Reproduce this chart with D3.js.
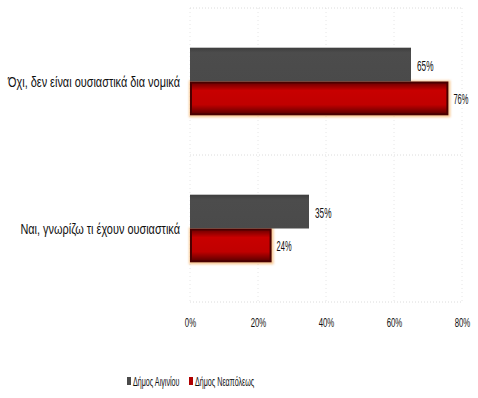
<!DOCTYPE html>
<html>
<head>
<meta charset="utf-8">
<script src="https://cdn.jsdelivr.net/npm/d3@7"></script>
<style>
  html, body { margin: 0; padding: 0; background: #fff; }
  svg { display: block; }
  text { font-family: "Liberation Sans", Arial, sans-serif; fill: #111; }
</style>
</head>
<body>
<svg id="chart" width="478" height="398"></svg>
<script>
// Answers (rows) and municipalities (series)
const categories = [
  "Όχι, δεν είναι ουσιαστικά δια νομικά",
  "Ναι, γνωρίζω τι έχουν ουσιαστικά"
];
const seriesNames = ["Δήμος Αιγινίου", "Δήμος Νεαπόλεως"];
const seriesA = [0.65, 0.35];
const seriesB = [0.76, 0.24];
const xTicks = [0, 0.2, 0.4, 0.6, 0.8];

const svg = d3.select("#chart");
const plotLeft = 190, plotRight = 462, plotTop = 8, plotBottom = 302;

// narrow the glyphs horizontally around their anchor, like a condensed face
function condense(sel, k) {
  sel.each(function () {
    const t = d3.select(this);
    const tx = +t.attr("x") || 0, ty = +t.attr("y") || 0;
    t.attr("x", 0).attr("y", 0)
      .attr("transform", `translate(${tx},${ty}) scale(${k},1)`);
  });
}

const x = d3.scaleLinear().domain([0, 0.8]).range([plotLeft, plotRight]);
const y0 = d3.scaleBand().domain(categories).range([plotTop, plotBottom])
  .paddingInner(0.54).paddingOuter(0.27);
const y1 = d3.scaleBand().domain(seriesNames).range([0, y0.bandwidth()]);

const defs = svg.append("defs");
const gRed = defs.append("linearGradient").attr("id", "gRed")
  .attr("x1", 0).attr("y1", 0).attr("x2", 0).attr("y2", 1);
gRed.append("stop").attr("offset", "0%").attr("stop-color", "#6a0000");
gRed.append("stop").attr("offset", "25%").attr("stop-color", "#c80000");
gRed.append("stop").attr("offset", "70%").attr("stop-color", "#c00000");
gRed.append("stop").attr("offset", "100%").attr("stop-color", "#5a0000");
const gGrey = defs.append("linearGradient").attr("id", "gGrey")
  .attr("x1", 0).attr("y1", 0).attr("x2", 0).attr("y2", 1);
gGrey.append("stop").attr("offset", "0%").attr("stop-color", "#3e3e3e");
gGrey.append("stop").attr("offset", "15%").attr("stop-color", "#4c4c4c");
gGrey.append("stop").attr("offset", "100%").attr("stop-color", "#4a4a4a");
const blur = defs.append("filter").attr("id", "soft")
  .attr("x", "-5%").attr("y", "-20%").attr("width", "110%").attr("height", "140%");
blur.append("feGaussianBlur").attr("stdDeviation", 1.2);

// faint dotted grid
const grid = svg.append("g");
grid.selectAll("line.v").data(xTicks).join("line")
  .attr("x1", d => x(d)).attr("x2", d => x(d))
  .attr("y1", plotTop).attr("y2", plotBottom)
  .attr("stroke", "#e6e6e6").attr("stroke-width", 1).attr("stroke-dasharray", "1,3");
const hLines = [plotTop, (y0(categories[0]) + y0.bandwidth() + y0(categories[1])) / 2, plotBottom];
grid.selectAll("line.h").data(hLines).join("line")
  .attr("x1", plotLeft).attr("x2", plotRight)
  .attr("y1", d => d).attr("y2", d => d)
  .attr("stroke", "#dcdcdc").attr("stroke-width", 1).attr("stroke-dasharray", "1,2");

const rows = categories.map((c, i) => ({ c, a: seriesA[i], b: seriesB[i] }));
const gRow = svg.append("g").selectAll("g").data(rows).join("g")
  .attr("transform", d => `translate(0,${y0(d.c)})`);

// soft warm glow under the red bars
gRow.append("rect")
  .attr("x", x(0) - 1).attr("y", y1(seriesNames[1]) - 1)
  .attr("width", d => x(d.b) - x(0) + 3).attr("height", y1.bandwidth() + 3)
  .attr("fill", "#f6b46a").attr("opacity", 0.7).attr("filter", "url(#soft)");

// grey bars
gRow.append("rect")
  .attr("x", x(0)).attr("y", y1(seriesNames[0]))
  .attr("width", d => x(d.a) - x(0)).attr("height", y1.bandwidth())
  .attr("fill", "url(#gGrey)");
// red bars
gRow.append("rect")
  .attr("x", x(0) + 1).attr("y", y1(seriesNames[1]) + 1)
  .attr("width", d => x(d.b) - x(0) - 2).attr("height", y1.bandwidth() - 2)
  .attr("fill", "url(#gRed)").attr("stroke", "#4a0000").attr("stroke-width", 2);

const fmt = d3.format(".0%");
gRow.append("text")
  .attr("x", d => x(d.a) + 6).attr("y", y1(seriesNames[0]) + y1.bandwidth() / 2 + 6)
  .attr("font-size", 15).text(d => fmt(d.a)).call(condense, 0.55);
gRow.append("text")
  .attr("x", d => x(d.b) + 5).attr("y", y1(seriesNames[1]) + y1.bandwidth() / 2 + 6)
  .attr("font-size", 15).text(d => fmt(d.b)).call(condense, 0.5);

// category labels
gRow.append("text")
  .attr("x", plotLeft - 10).attr("y", y0.bandwidth() / 2 + 5)
  .attr("text-anchor", "end").attr("font-size", 14)
  .text(d => d.c).call(condense, 0.78);

// x axis labels
const xAxis = d3.axisBottom(x).tickValues(xTicks).tickFormat(d3.format(".0%"))
  .tickSize(0).tickPadding(0);
const ax = svg.append("g").attr("transform", `translate(0,${plotBottom + 16})`).call(xAxis);
ax.select(".domain").remove();
ax.selectAll("text").attr("font-size", 13).attr("fill", "#333")
  .style("font-family", '"Liberation Sans", Arial, sans-serif')
  .call(condense, 0.6);

// legend
const legend = svg.append("g").attr("transform", "translate(127,382)");
const legColors = ["#4a4a4a", "#b00000"];
const legX = [0, 62];
const li = legend.selectAll("g").data(seriesNames).join("g")
  .attr("transform", (d, i) => `translate(${legX[i]},0)`);
li.append("rect").attr("x", 0).attr("y", -5).attr("width", 4).attr("height", 8)
  .attr("fill", (d, i) => legColors[i]);
li.append("text").attr("x", 6).attr("y", 4).attr("font-size", 13)
  .text(d => d).call(condense, 0.55);
</script>
</body>
</html>
